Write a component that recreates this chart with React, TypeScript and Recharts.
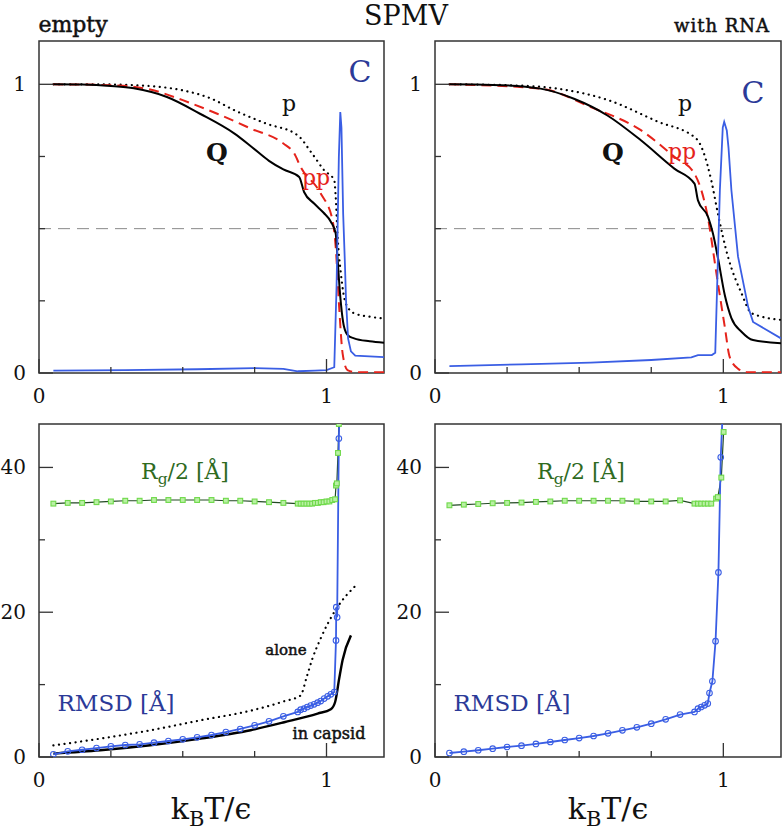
import { LineChart, Line, XAxis, YAxis, ReferenceLine, ReferenceArea } from 'recharts'

type Pair = [number, number]

// top row, empty capsid: Q, p, pp and C against k_B T / eps
const emptyQ: Pair[] = [[0.05, 1], [0.15, 0.999], [0.25, 0.994], [0.33, 0.986], [0.445, 0.956], [0.56, 0.898], [0.68, 0.829], [0.74, 0.783], [0.8, 0.735], [0.85, 0.705], [0.905, 0.679], [0.922, 0.627], [0.957, 0.587], [0.99, 0.555], [1.015, 0.524], [1.032, 0.483], [1.038, 0.403], [1.047, 0.276], [1.061, 0.16], [1.075, 0.13], [1.096, 0.12], [1.15, 0.11], [1.2, 0.105]]
const emptyP: Pair[] = [[0.05, 1], [0.2, 1], [0.33, 0.997], [0.5, 0.979], [0.6, 0.95], [0.68, 0.91], [0.79, 0.864], [0.899, 0.824], [0.95, 0.76], [0.992, 0.702], [1.027, 0.668], [1.032, 0.61], [1.038, 0.483], [1.05, 0.345], [1.067, 0.241], [1.096, 0.207], [1.15, 0.195], [1.2, 0.189]]
const emptyPP: Pair[] = [[0.05, 1], [0.25, 0.997], [0.387, 0.982], [0.5, 0.945], [0.62, 0.898], [0.736, 0.847], [0.85, 0.795], [0.888, 0.76], [0.91, 0.714], [0.98, 0.622], [1.021, 0.529], [1.032, 0.437], [1.044, 0.229], [1.056, 0.068], [1.073, 0.01], [1.1, 0.003], [1.2, 0.003]]
const emptyC: Pair[] = [[0.05, 0.008], [0.3, 0.01], [0.55, 0.013], [0.75, 0.017], [0.85, 0.014], [0.9, 0.006], [0.96, 0.008], [1.0, 0.01], [1.027, 0.02], [1.035, 0.3], [1.043, 0.75], [1.048, 0.904], [1.052, 0.85], [1.058, 0.55], [1.064, 0.38], [1.068, 0.25], [1.075, 0.12], [1.085, 0.075], [1.1, 0.06], [1.2, 0.055]]

// top row, with RNA
const rnaQ: Pair[] = [[0.05, 1], [0.2, 0.998], [0.366, 0.985], [0.482, 0.95], [0.598, 0.892], [0.714, 0.806], [0.83, 0.708], [0.9, 0.656], [0.912, 0.598], [0.947, 0.541], [0.964, 0.483], [0.981, 0.4], [1.005, 0.27], [1.028, 0.19], [1.063, 0.143], [1.103, 0.114], [1.2, 0.103]]
const rnaP: Pair[] = [[0.05, 1], [0.25, 0.997], [0.424, 0.985], [0.598, 0.946], [0.772, 0.871], [0.906, 0.812], [0.958, 0.668], [0.981, 0.553], [1.016, 0.403], [1.063, 0.276], [1.098, 0.207], [1.2, 0.184]]
const rnaPP: Pair[] = [[0.05, 1], [0.366, 0.985], [0.54, 0.921], [0.714, 0.841], [0.83, 0.749], [0.9, 0.69], [0.947, 0.535], [0.976, 0.345], [1.005, 0.16], [1.022, 0.056], [1.051, 0.015], [1.08, 0.003], [1.2, 0.003]]
const rnaC: Pair[] = [[0.05, 0.024], [0.3, 0.03], [0.54, 0.036], [0.75, 0.045], [0.889, 0.054], [0.912, 0.062], [0.96, 0.062], [0.972, 0.07], [0.988, 0.633], [0.998, 0.85], [1.003, 0.87], [1.012, 0.84], [1.018, 0.78], [1.028, 0.633], [1.051, 0.403], [1.086, 0.229], [1.103, 0.177], [1.2, 0.12]]

// bottom row, Rg/2 and RMSD in angstrom
const emptyRg: Pair[] = [[0.05, 35.0], [0.1, 35.1], [0.15, 35.1], [0.2, 35.2], [0.25, 35.3], [0.3, 35.4], [0.35, 35.4], [0.4, 35.5], [0.45, 35.5], [0.5, 35.5], [0.55, 35.5], [0.6, 35.5], [0.65, 35.4], [0.7, 35.4], [0.75, 35.3], [0.8, 35.2], [0.85, 35.1], [0.9, 35.0], [0.91, 35.0], [0.92, 35.0], [0.93, 35.0], [0.94, 35.0], [0.95, 35.0], [0.96, 35.1], [0.97, 35.1], [0.98, 35.2], [0.99, 35.2], [1.0, 35.3], [1.01, 35.3], [1.02, 35.5], [1.03, 35.6], [1.033, 37.5], [1.036, 37.8], [1.04, 42], [1.043, 46]]
const emptyRmsd: Pair[] = [[0.05, 0.37], [0.1, 0.79], [0.15, 1.0], [0.2, 1.24], [0.25, 1.48], [0.3, 1.66], [0.35, 1.75], [0.4, 1.98], [0.45, 2.21], [0.5, 2.44], [0.55, 2.72], [0.6, 3.04], [0.65, 3.45], [0.7, 3.87], [0.75, 4.38], [0.8, 4.93], [0.85, 5.62], [0.9, 6.22], [0.91, 6.54], [0.922, 6.68], [0.933, 6.91], [0.945, 7.1], [0.957, 7.28], [0.969, 7.51], [0.98, 7.73], [0.992, 8.07], [1.004, 8.38], [1.015, 8.66], [1.027, 8.98], [1.033, 16.1], [1.034, 20.7], [1.037, 19.3], [1.043, 44.0], [1.045, 47]]
const emptyAlone: Pair[] = [[0.05, 1.6], [0.213, 2.54], [0.387, 3.69], [0.562, 5.07], [0.736, 6.4], [0.853, 7.7], [0.91, 8.5], [0.93, 10.9], [0.951, 13.6], [0.98, 16.4], [1.004, 18.4], [1.038, 20.7], [1.102, 23.7]]
const emptyCapsid: Pair[] = [[0.05, 0.47], [0.213, 0.93], [0.387, 1.62], [0.562, 2.54], [0.736, 3.7], [0.853, 4.8], [0.969, 6.0], [1.015, 6.6], [1.03, 7.6], [1.044, 10.8], [1.056, 13.4], [1.085, 16.8]]

const rnaRg: Pair[] = [[0.05, 34.77], [0.1, 34.86], [0.15, 34.95], [0.2, 35.05], [0.25, 35.1], [0.3, 35.15], [0.35, 35.24], [0.4, 35.3], [0.45, 35.4], [0.5, 35.4], [0.55, 35.4], [0.6, 35.4], [0.65, 35.4], [0.7, 35.3], [0.75, 35.3], [0.8, 35.3], [0.85, 35.45], [0.9, 35.0], [0.912, 35.0], [0.923, 35.0], [0.935, 35.0], [0.946, 35.0], [0.958, 35.0], [0.975, 35.7], [0.981, 35.9], [0.993, 38.6], [1.001, 44.9]]
const rnaRmsd: Pair[] = [[0.05, 0.55], [0.1, 0.74], [0.15, 0.93], [0.2, 1.15], [0.25, 1.38], [0.3, 1.57], [0.35, 1.8], [0.4, 2.07], [0.45, 2.35], [0.5, 2.62], [0.55, 2.9], [0.6, 3.27], [0.65, 3.69], [0.7, 4.1], [0.75, 4.61], [0.8, 5.21], [0.85, 5.86], [0.9, 6.22], [0.912, 6.68], [0.923, 6.91], [0.935, 7.14], [0.946, 7.38], [0.952, 8.84], [0.962, 10.46], [0.973, 16.0], [0.983, 25.5], [0.991, 41.4], [0.997, 47]]

const xTicks = [0, 0.25, 0.5, 0.75, 1]
const xLabels = [0, 1]
const topYTicks = [0, 0.25, 0.5, 0.75, 1]
const topYLabels = [0, 1]
const botYTicks = [0, 10, 20, 30, 40]
const botYLabels = [0, 20, 40]

const SERIF = "'DejaVu Serif', serif"
const FRAME = '#333'
const BLUE = '#3a5ee4'
const NAVY = '#2b3a98'
const RED = '#e5231b'
const GREEN = '#2f6b1f'

const toPts = (arr: Pair[]) => arr.map(([t, v]) => ({ t, v }))

interface ISeries {
	data: Pair[]
	stroke: string
	width: number
	dash?: string
	round?: boolean
	smooth?: boolean
	marker?: 'circle' | 'square'
	markerColor?: string
}

function XTick({ x, y, payload }: any) {
	const v = payload.value
	const major = xLabels.includes(v)
	return (
		<g>
			<line x1={x} y1={y} x2={x} y2={y - (major ? 14 : 6)} stroke={FRAME} strokeWidth={1.3} />
			{major && (
				<text x={x} y={y + 23} textAnchor='middle' dominantBaseline='central' fontFamily={SERIF} fontSize={20} fill='#111'>
					{v}
				</text>
			)}
		</g>
	)
}

const makeYTick = (labels: number[]) => ({ x, y, payload }: any) => {
	const v = payload.value
	const major = labels.includes(v)
	return (
		<g>
			<line x1={x} y1={y} x2={x + (major ? 14 : 6)} y2={y} stroke={FRAME} strokeWidth={1.3} />
			{major && (
				<text x={x - 13} y={y} textAnchor='end' dominantBaseline='central' fontFamily={SERIF} fontSize={20} fill='#111'>
					{v}
				</text>
			)}
		</g>
	)
}

const makeDot = (kind: 'circle' | 'square', color: string) => (p: any) => {
	if (typeof p.cx !== 'number' || typeof p.cy !== 'number') return <g key={`n${p.index}`} />
	if (kind === 'circle')
		return <circle key={`c${p.index}`} cx={p.cx} cy={p.cy} r={2.8} fill='none' stroke={color} strokeWidth={1.1} />
	return <rect key={`s${p.index}`} x={p.cx - 2.4} y={p.cy - 2.4} width={4.8} height={4.8} fill='#b9f0a4' stroke={color} strokeWidth={1.1} />
}

interface IPanel {
	left: number
	top: number
	width: number
	height: number
	margin: { top: number; right: number; bottom: number; left: number }
	yMax: number
	yTicks: number[]
	yLabels: number[]
	series: ISeries[]
	halfLine?: number
}

function Panel({ left, top, width, height, margin, yMax, yTicks, yLabels, series, halfLine }: IPanel) {
	return (
		<div style={{ position: 'absolute', left, top }}>
			<LineChart width={width} height={height} margin={margin}>
				<XAxis
					type='number'
					dataKey='t'
					domain={[0, 1.2]}
					allowDataOverflow
					ticks={xTicks}
					interval={0}
					height={1}
					tickSize={0}
					tickMargin={0}
					axisLine={false}
					tickLine={false}
					tick={XTick}
				/>
				<YAxis
					type='number'
					domain={[0, yMax]}
					allowDataOverflow
					ticks={yTicks}
					interval={0}
					width={1}
					tickSize={0}
					tickMargin={0}
					axisLine={false}
					tickLine={false}
					tick={makeYTick(yLabels)}
				/>
				{halfLine !== undefined && (
					<ReferenceLine
						segment={[{ x: 0, y: 0.5 }, { x: halfLine, y: 0.5 }]}
						stroke='#8a8a8a'
						strokeWidth={1}
						strokeDasharray='12 7'
					/>
				)}
				{series.map((s, i) => (
					<Line
						key={i}
						data={toPts(s.data)}
						dataKey='v'
						type={s.smooth ? 'monotone' : 'linear'}
						stroke={s.stroke}
						strokeWidth={s.width}
						strokeDasharray={s.dash}
						strokeLinecap={s.round ? 'round' : 'butt'}
						dot={s.marker ? makeDot(s.marker, s.markerColor || s.stroke) : false}
						activeDot={false}
						isAnimationActive={false}
					/>
				))}
				<ReferenceArea x1={0} x2={1.2} y1={0} y2={yMax} fill='none' stroke={FRAME} strokeWidth={1.5} />
			</LineChart>
		</div>
	)
}

function Note({ x, y, size, color = '#111', weight = 400, heavy, children }: any) {
	return (
		<div
			style={{
				position: 'absolute',
				left: x,
				top: y,
				transform: 'translate(-50%, -50%)',
				fontFamily: SERIF,
				fontSize: size,
				fontWeight: weight,
				color,
				lineHeight: 1,
				whiteSpace: 'nowrap',
				WebkitTextStroke: heavy ? `0.5px ${color}` : undefined
			}}
		>
			{children}
		</div>
	)
}

const topSeries = (q: Pair[], p: Pair[], pp: Pair[], c: Pair[]): ISeries[] => [
	{ data: p, stroke: '#000', width: 2.2, dash: '0.1 5.5', round: true, smooth: true },
	{ data: pp, stroke: RED, width: 2, dash: '10 6', smooth: true },
	{ data: q, stroke: '#000', width: 2, smooth: true },
	{ data: c, stroke: BLUE, width: 1.8 }
]

function App() {
	// plot boxes: x 39..384 / 435..781, y 41..373 (top) and 424..757 (bottom)
	const topMargin = { top: 41, right: 6, bottom: 36, left: 38 }
	const topMarginR = { top: 41, right: 1, bottom: 36, left: 46 }
	const botMargin = { top: 24, right: 6, bottom: 74, left: 38 }
	const botMarginR = { top: 24, right: 1, bottom: 74, left: 46 }

	return (
		<div style={{ position: 'absolute', left: 0, top: 0, width: 782, height: 832, background: '#fff', overflow: 'hidden' }}>
			<Panel left={0} top={0} width={390} height={410} margin={topMargin} yMax={1.15} yTicks={topYTicks} yLabels={topYLabels} halfLine={1.038} series={topSeries(emptyQ, emptyP, emptyPP, emptyC)} />
			<Panel left={388} top={0} width={394} height={410} margin={topMarginR} yMax={1.15} yTicks={topYTicks} yLabels={topYLabels} halfLine={1.034} series={topSeries(rnaQ, rnaP, rnaPP, rnaC)} />
			<Panel
				left={0}
				top={400}
				width={390}
				height={432}
				margin={botMargin}
				yMax={46}
				yTicks={botYTicks}
				yLabels={botYLabels}
				series={[
					{ data: emptyAlone, stroke: '#000', width: 2.2, dash: '0.1 5.5', round: true, smooth: true },
					{ data: emptyCapsid, stroke: '#000', width: 2.4, smooth: true },
					{ data: emptyRg, stroke: '#234a23', width: 1.2, marker: 'square', markerColor: '#6fd94a' },
					{ data: emptyRmsd, stroke: BLUE, width: 1.8, marker: 'circle' }
				]}
			/>
			<Panel
				left={388}
				top={400}
				width={394}
				height={432}
				margin={botMarginR}
				yMax={46}
				yTicks={botYTicks}
				yLabels={botYLabels}
				series={[
					{ data: rnaRg, stroke: '#234a23', width: 1.2, marker: 'square', markerColor: '#6fd94a' },
					{ data: rnaRmsd, stroke: BLUE, width: 1.8, marker: 'circle' }
				]}
			/>

			<Note x={406} y={15} size={27}>SPMV</Note>
			<Note x={73} y={25} size={22} heavy>empty</Note>
			<Note x={722} y={26} size={18} heavy><span style={{ letterSpacing: 1 }}>with RNA</span></Note>

			<Note x={217} y={152} size={25} weight={700}>Q</Note>
			<Note x={289} y={104} size={22}>p</Note>
			<Note x={316} y={178} size={22} color={RED}>pp</Note>
			<Note x={360} y={72} size={30} color={NAVY}>C</Note>

			<Note x={613} y={152} size={25} weight={700}>Q</Note>
			<Note x={685} y={104} size={22}>p</Note>
			<Note x={682} y={152} size={22} color={RED}>pp</Note>
			<Note x={753} y={93} size={30} color={NAVY}>C</Note>

			<Note x={185} y={474} size={22} color={GREEN}>R<sub style={{ fontSize: '0.7em' }}>g</sub>/2 [Å]</Note>
			<Note x={116} y={703} size={23} color={NAVY}>RMSD [Å]</Note>
			<Note x={286} y={650} size={15} heavy>alone</Note>
			<Note x={329} y={734} size={16} heavy>in capsid</Note>

			<Note x={581} y={474} size={22} color={GREEN}>R<sub style={{ fontSize: '0.7em' }}>g</sub>/2 [Å]</Note>
			<Note x={512} y={703} size={23} color={NAVY}>RMSD [Å]</Note>

			<Note x={211} y={812} size={30}>k<sub style={{ fontSize: '0.7em' }}>B</sub>T/ϵ</Note>
			<Note x={608} y={812} size={30}>k<sub style={{ fontSize: '0.7em' }}>B</sub>T/ϵ</Note>
		</div>
	)
}

export default App
